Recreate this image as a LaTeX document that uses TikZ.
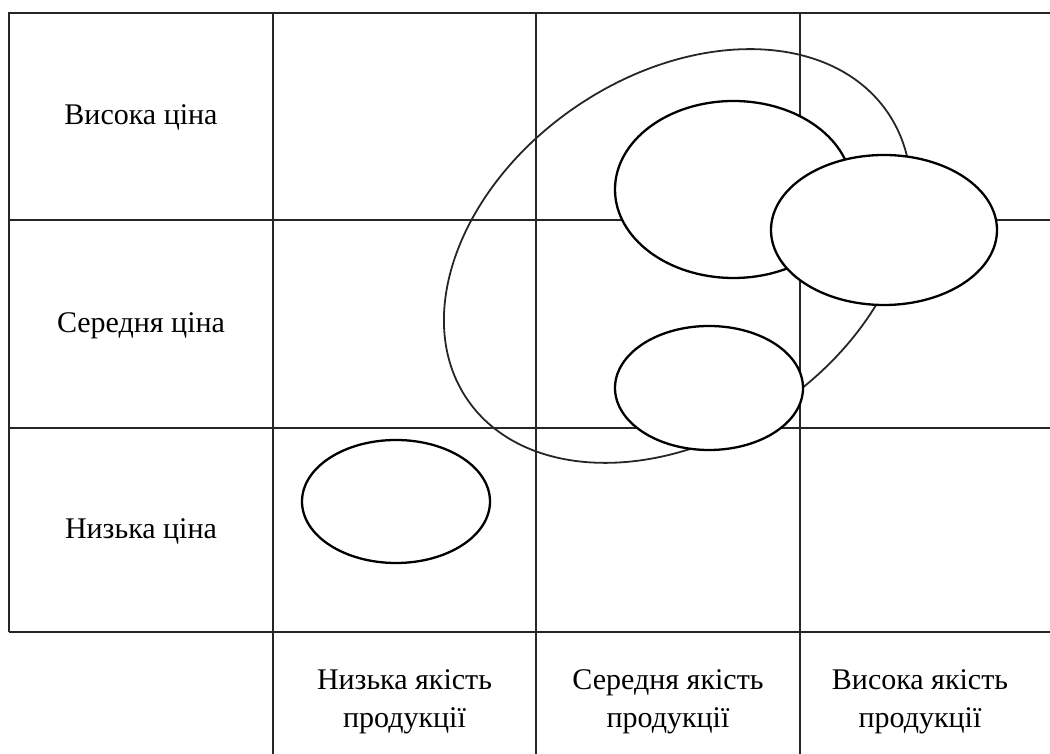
\documentclass[tikz,border=0pt]{standalone}
\usepackage{fontspec}
\setmainfont{Liberation Serif}
\usetikzlibrary{shapes.geometric}
\begin{document}
\begin{tikzpicture}[x=1pt,y=1pt,
  gridline/.style={line width=1.1pt,draw=black!85},
  bigell/.style={ellipse,draw=black!85,line width=1.8pt,inner sep=0pt},
  smallell/.style={ellipse,draw=black,fill=white,line width=2.3pt,inner sep=0pt},
  lbl/.style={font=\fontsize{30}{37.5}\selectfont,align=center,inner sep=0pt}]
\useasboundingbox (0,0) rectangle (1050,754);
% grid
\draw[gridline] (9,122) -- (9,741) -- (1050,741);
\draw[gridline] (9,534) -- (1050,534);
\draw[gridline] (9,326) -- (1050,326);
\draw[gridline] (9,122) -- (1050,122);
\draw[gridline] (273,0) -- (273,741);
\draw[gridline] (536,0) -- (536,741);
\draw[gridline] (800,0) -- (800,741);
% labels
\node[lbl] (hp) at (141,637) {Висока ціна};
\node[lbl] (mp) at (141,428) {Середня ціна};
\node[lbl] (lp) at (141,223) {Низька ціна};
\node[lbl] (lq) at (404.5,52) {Низька якість\\продукції};
\node[lbl] (mq) at (668,52) {Середня якість\\продукції};
\node[lbl] (hq) at (920,52) {Висока якість\\продукції};
% ellipses
\node[bigell,minimum width=509pt,minimum height=361pt,rotate=34.3] (big) at (677.5,498) {};
\node[smallell,minimum width=237pt,minimum height=177pt] (e1) at (733.5,564.5) {};
\node[smallell,minimum width=226pt,minimum height=150pt] (e2) at (884,524) {};
\node[smallell,minimum width=188pt,minimum height=124pt] (e3) at (709,366) {};
\node[smallell,minimum width=188pt,minimum height=123pt] (e4) at (396,252.5) {};
\end{tikzpicture}
\end{document}
